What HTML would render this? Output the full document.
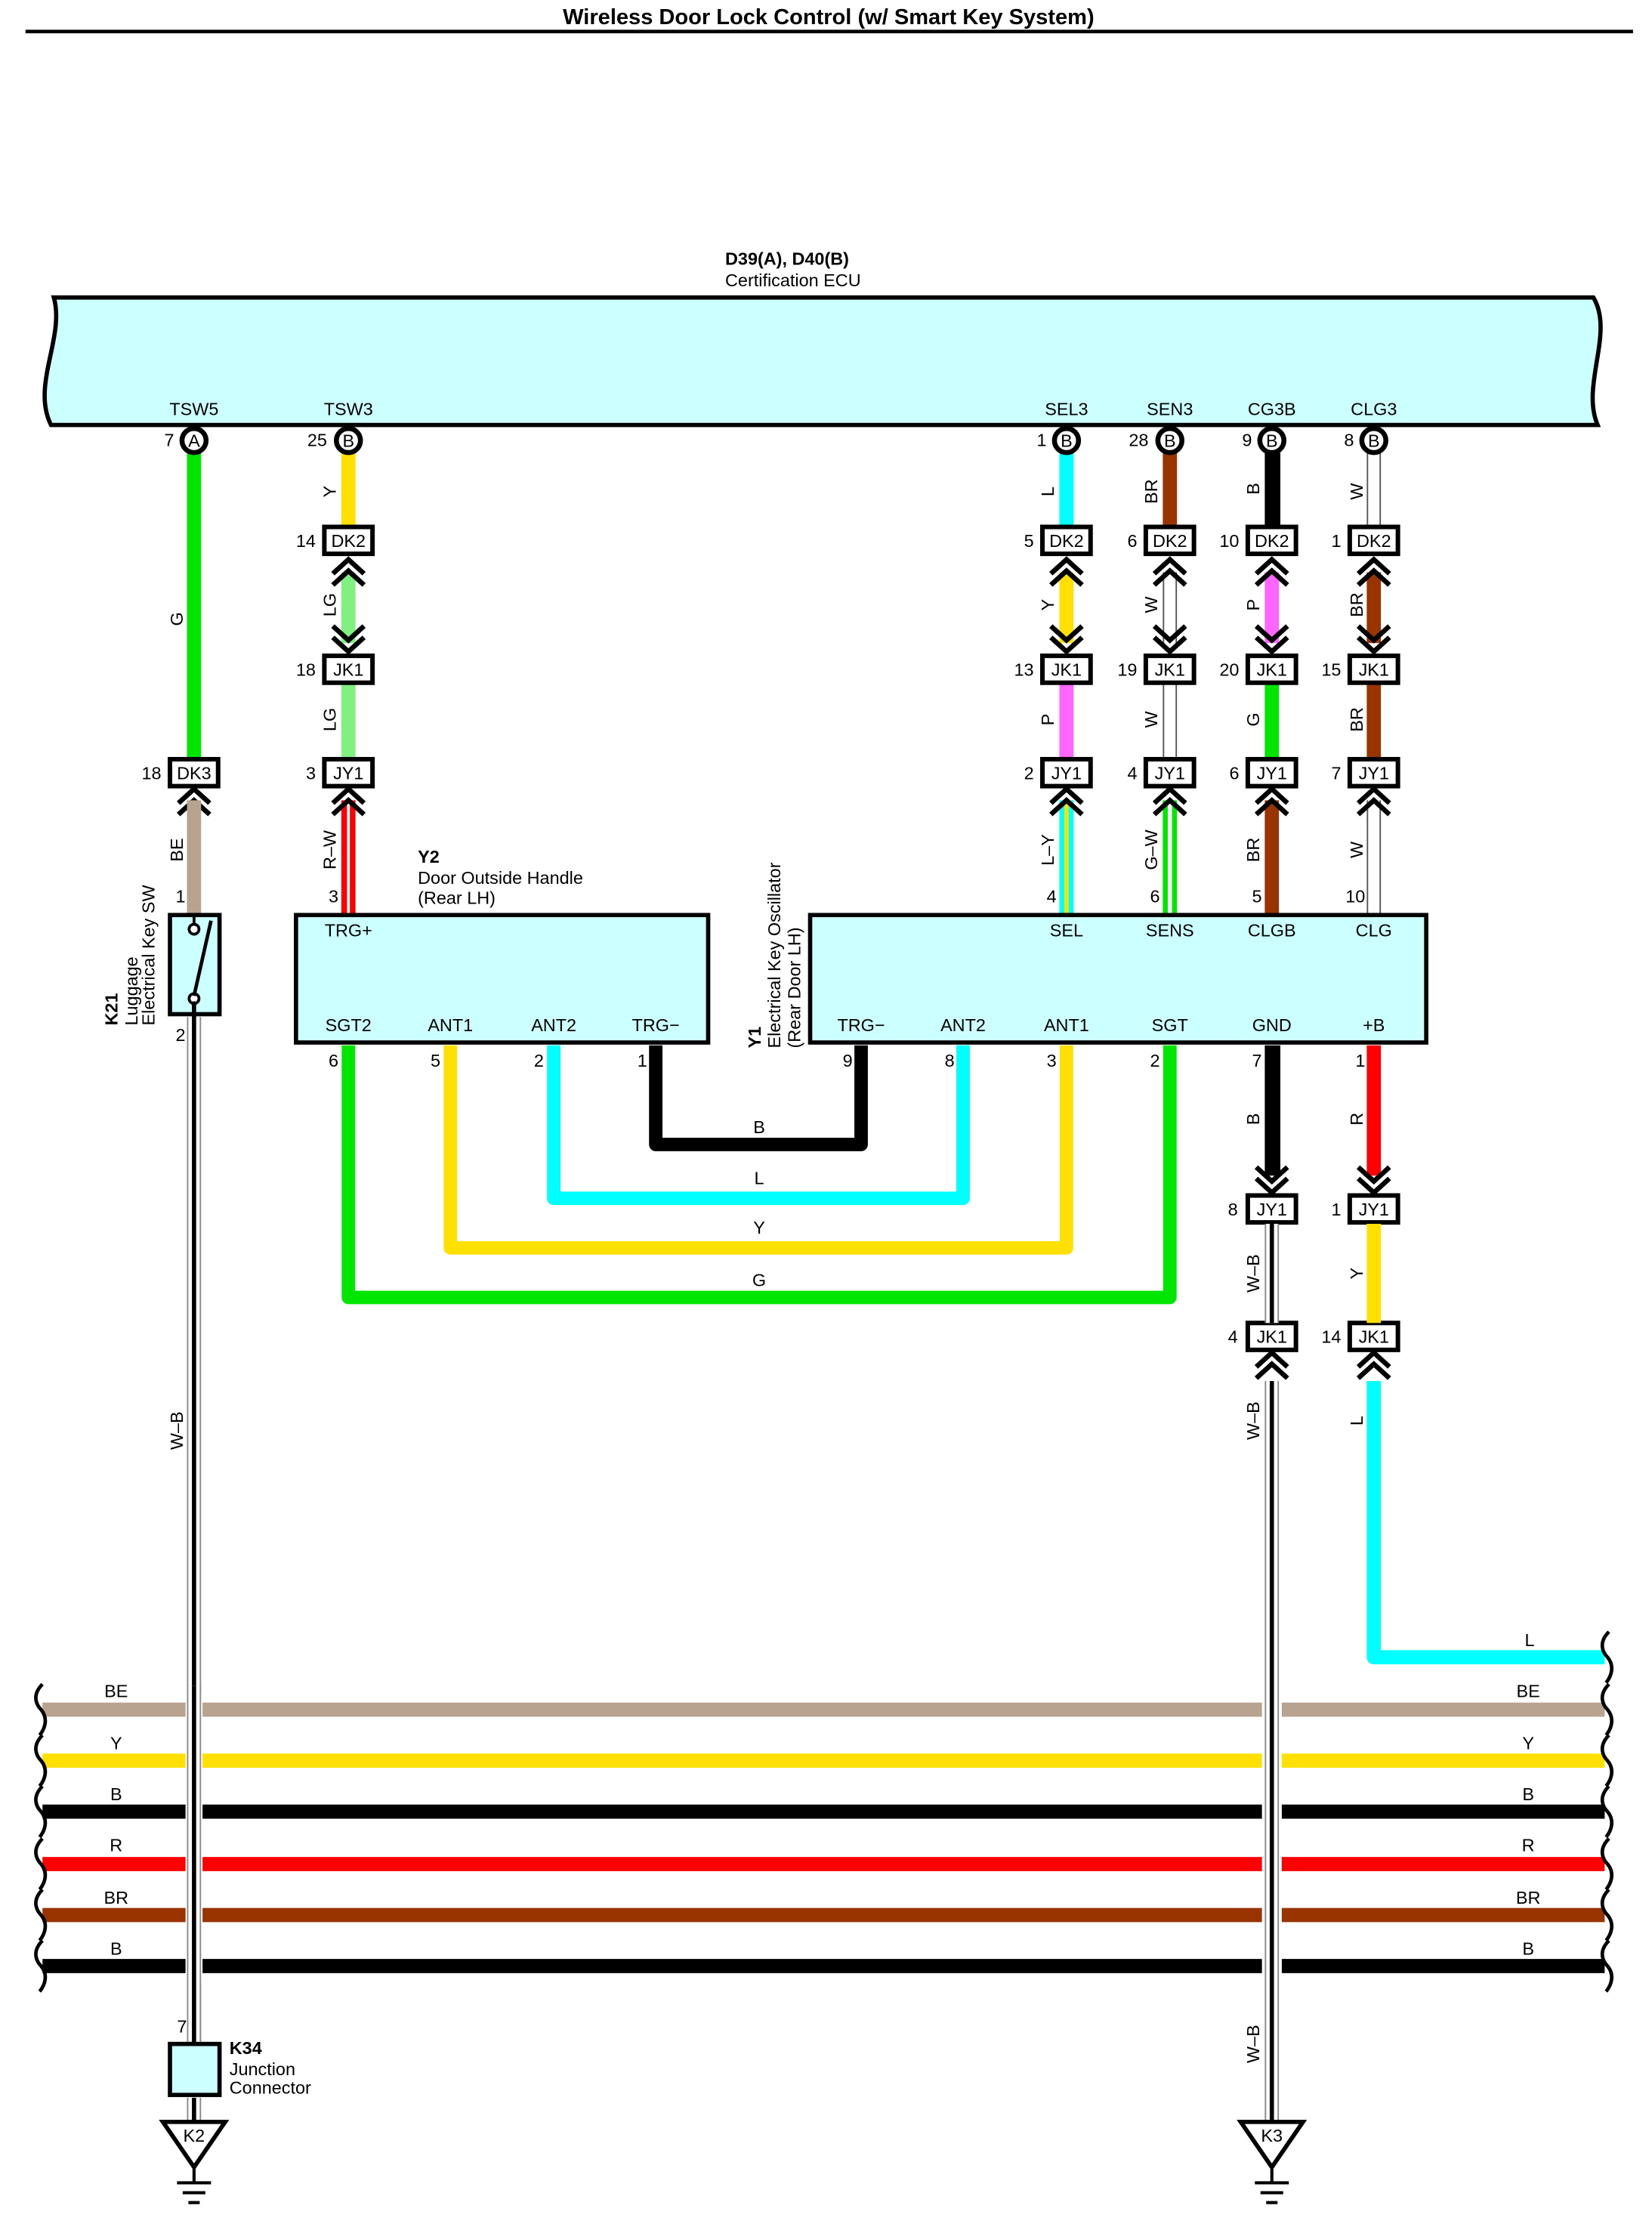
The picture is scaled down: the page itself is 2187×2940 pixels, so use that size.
<!DOCTYPE html>
<html><head><meta charset="utf-8"><style>
html,body{margin:0;padding:0;background:#fff}
svg{display:block}
text{font-family:"Liberation Sans",Arial,sans-serif;font-size:12.5px;fill:#000}
.c{text-anchor:middle}
.b{font-weight:bold}
</style></head><body>
<svg width="2187" height="2940" viewBox="0 0 1166.4 1568" xmlns="http://www.w3.org/2000/svg">
<defs>
<g id="chu"><polyline points="-11,10 0,0 11,10" fill="none" stroke="#000" stroke-width="3.5"/><polyline points="-11,18 0,8 11,18" fill="none" stroke="#000" stroke-width="3.5"/></g>
<g id="chd"><polyline points="-11,-10 0,0 11,-10" fill="none" stroke="#000" stroke-width="3.5"/><polyline points="-11,-18 0,-8 11,-18" fill="none" stroke="#000" stroke-width="3.5"/></g>
</defs>
<rect width="1166.4" height="1568" fill="#fff"/>
<text x="585" y="17" class="c b" style="font-size:15.5px">Wireless Door Lock Control (w/ Smart Key System)</text>
<rect x="18" y="21" width="1135" height="2.5" fill="#000"/>

<text x="512" y="187" class="b">D39(A), D40(B)</text>
<text x="512" y="202">Certification ECU</text>
<path d="M38,210 L1125,210 C1140,235 1116,272 1128,300 L36,300 C22,272 46,238 38,210 Z" fill="#ccffff" stroke="#000" stroke-width="3"/>
<g class="c">
<text x="137" y="293" class="c">TSW5</text><text x="246" y="293" class="c">TSW3</text><text x="753" y="293" class="c">SEL3</text><text x="826" y="293" class="c">SEN3</text><text x="898" y="293" class="c">CG3B</text><text x="970" y="293" class="c">CLG3</text>
</g>

<rect x="132" y="318" width="10" height="220" fill="#00e600"/>
<rect x="241" y="318" width="10" height="55" fill="#ffe000"/>
<rect x="241" y="404" width="10" height="50" fill="#80f080"/>
<rect x="241" y="482" width="10" height="55" fill="#80f080"/>
<rect x="241" y="565" width="10" height="80" fill="#ff0000"/><rect x="245" y="565" width="2" height="80" fill="#fff"/>
<rect x="748" y="318" width="10" height="55" fill="#00ffff"/>
<rect x="748" y="404" width="10" height="50" fill="#ffe000"/>
<rect x="748" y="482" width="10" height="55" fill="#ff66ff"/>
<rect x="748" y="565" width="10" height="80" fill="#00ffff"/><rect x="751.5" y="565" width="3" height="80" fill="#ffe000"/>
<rect x="821" y="318" width="10" height="55" fill="#993300"/>
<rect x="821" y="404" width="10" height="50" fill="#555"/><rect x="822" y="404" width="8" height="50" fill="#fff"/>
<rect x="821" y="482" width="10" height="55" fill="#555"/><rect x="822" y="482" width="8" height="55" fill="#fff"/>
<rect x="821" y="565" width="10" height="80" fill="#00e600"/><rect x="824.5" y="565" width="3" height="80" fill="#fff"/>
<rect x="893" y="318" width="11" height="55" fill="#000"/>
<rect x="893" y="404" width="10" height="50" fill="#ff66ff"/>
<rect x="893" y="482" width="10" height="55" fill="#00e600"/>
<rect x="893" y="565" width="10" height="80" fill="#993300"/>
<rect x="965" y="318" width="10" height="55" fill="#555"/><rect x="966" y="318" width="8" height="55" fill="#fff"/>
<rect x="965" y="404" width="10" height="50" fill="#993300"/>
<rect x="965" y="482" width="10" height="55" fill="#993300"/>
<rect x="965" y="565" width="10" height="80" fill="#555"/><rect x="966" y="565" width="8" height="80" fill="#fff"/>

<g fill="#fff" stroke="#000" stroke-width="3.5">
<circle cx="137" cy="311" r="8.5"/><circle cx="246" cy="311" r="8.5"/><circle cx="753" cy="311" r="8.5"/><circle cx="826" cy="311" r="8.5"/><circle cx="898" cy="311" r="8.5"/><circle cx="970" cy="311" r="8.5"/>
</g>
<text x="137" y="315.5" class="c">A</text><text x="246" y="315.5" class="c">B</text><text x="753" y="315.5" class="c">B</text><text x="826" y="315.5" class="c">B</text><text x="898" y="315.5" class="c">B</text><text x="970" y="315.5" class="c">B</text>
<text x="116" y="315">7</text><text x="217" y="315">25</text><text x="732" y="315">1</text><text x="797" y="315">28</text><text x="877" y="315">9</text><text x="949" y="315">8</text>

<use href="#chu" x="246" y="395"/><use href="#chd" x="246" y="460"/><use href="#chu" x="246" y="557"/>
<use href="#chu" x="753" y="395"/><use href="#chd" x="753" y="460"/><use href="#chu" x="753" y="557"/>
<use href="#chu" x="826" y="395"/><use href="#chd" x="826" y="460"/><use href="#chu" x="826" y="557"/>
<use href="#chu" x="898" y="395"/><use href="#chd" x="898" y="460"/><use href="#chu" x="898" y="557"/>
<use href="#chu" x="970" y="395"/><use href="#chd" x="970" y="460"/><use href="#chu" x="970" y="557"/>
<use href="#chu" x="137" y="557"/>

<g fill="#fff" stroke="#000" stroke-width="3.2">
<rect x="229" y="372" width="34" height="19"/><rect x="229" y="463" width="34" height="19"/><rect x="229" y="536" width="34" height="19"/>
<rect x="736" y="372" width="34" height="19"/><rect x="736" y="463" width="34" height="19"/><rect x="736" y="536" width="34" height="19"/>
<rect x="809" y="372" width="34" height="19"/><rect x="809" y="463" width="34" height="19"/><rect x="809" y="536" width="34" height="19"/>
<rect x="881" y="372" width="34" height="19"/><rect x="881" y="463" width="34" height="19"/><rect x="881" y="536" width="34" height="19"/>
<rect x="953" y="372" width="34" height="19"/><rect x="953" y="463" width="34" height="19"/><rect x="953" y="536" width="34" height="19"/>
<rect x="120" y="536" width="34" height="19"/>
<rect x="881" y="844" width="34" height="19"/><rect x="881" y="934" width="34" height="19"/>
<rect x="953" y="844" width="34" height="19"/><rect x="953" y="934" width="34" height="19"/>
</g>
<g class="c">
<text x="246" y="386" class="c">DK2</text><text x="246" y="477" class="c">JK1</text><text x="246" y="550" class="c">JY1</text>
<text x="753" y="386" class="c">DK2</text><text x="753" y="477" class="c">JK1</text><text x="753" y="550" class="c">JY1</text>
<text x="826" y="386" class="c">DK2</text><text x="826" y="477" class="c">JK1</text><text x="826" y="550" class="c">JY1</text>
<text x="898" y="386" class="c">DK2</text><text x="898" y="477" class="c">JK1</text><text x="898" y="550" class="c">JY1</text>
<text x="970" y="386" class="c">DK2</text><text x="970" y="477" class="c">JK1</text><text x="970" y="550" class="c">JY1</text>
<text x="137" y="550" class="c">DK3</text>
<text x="898" y="858" class="c">JY1</text><text x="898" y="948" class="c">JK1</text>
<text x="970" y="858" class="c">JY1</text><text x="970" y="948" class="c">JK1</text>
</g>
<text x="209" y="386">14</text><text x="209" y="477">18</text><text x="216" y="550">3</text>
<text x="723" y="386">5</text><text x="716" y="477">13</text><text x="723" y="550">2</text>
<text x="796" y="386">6</text><text x="789" y="477">19</text><text x="796" y="550">4</text>
<text x="861" y="386">10</text><text x="861" y="477">20</text><text x="868" y="550">6</text>
<text x="940" y="386">1</text><text x="933" y="477">15</text><text x="940" y="550">7</text>
<text x="100" y="550">18</text>
<text x="867" y="858">8</text><text x="867" y="948">4</text>
<text x="940" y="858">1</text><text x="933" y="948">14</text>

<rect x="132" y="565" width="10" height="80" fill="#b8a290"/>
<rect x="120" y="646" width="35" height="70" fill="#ccffff" stroke="#000" stroke-width="3"/>
<line x1="137" y1="646" x2="137" y2="653" stroke="#000" stroke-width="2"/>
<circle cx="137" cy="656" r="3.5" fill="#fff" stroke="#000" stroke-width="2"/>
<circle cx="137" cy="705" r="3.5" fill="#fff" stroke="#000" stroke-width="2"/>
<line x1="137" y1="703" x2="149" y2="650" stroke="#000" stroke-width="2.5"/>
<text x="124" y="637">1</text><text x="124" y="735">2</text>
<text transform="translate(83,724) rotate(-90)" class="b">K21</text>
<text transform="translate(97,724) rotate(-90)">Luggage</text>
<text transform="translate(109,724) rotate(-90)">Electrical Key SW</text>

<rect x="132" y="718" width="10" height="726" fill="#888"/><rect x="133" y="718" width="8" height="726" fill="#fff"/><rect x="135.5" y="707" width="3" height="737" fill="#000"/>

<text x="295" y="609" class="b">Y2</text>
<text x="295" y="624">Door Outside Handle</text>
<text x="295" y="638">(Rear LH)</text>
<text x="232" y="637">3</text>
<rect x="209" y="646" width="291" height="90" fill="#ccffff" stroke="#000" stroke-width="3"/>
<text x="246" y="661" class="c">TRG+</text>
<text x="246" y="728" class="c">SGT2</text><text x="318" y="728" class="c">ANT1</text><text x="391" y="728" class="c">ANT2</text><text x="463" y="728" class="c">TRG−</text>
<text x="232" y="753">6</text><text x="304" y="753">5</text><text x="377" y="753">2</text><text x="450" y="753">1</text>

<text transform="translate(537,740) rotate(-90)" class="b">Y1</text>
<text transform="translate(551,740) rotate(-90)">Electrical Key Oscillator</text>
<text transform="translate(565,740) rotate(-90)">(Rear Door LH)</text>
<rect x="572" y="646" width="435" height="90" fill="#ccffff" stroke="#000" stroke-width="3"/>
<text x="753" y="661" class="c">SEL</text><text x="826" y="661" class="c">SENS</text><text x="898" y="661" class="c">CLGB</text><text x="970" y="661" class="c">CLG</text>
<text x="608" y="728" class="c">TRG−</text><text x="680" y="728" class="c">ANT2</text><text x="753" y="728" class="c">ANT1</text><text x="826" y="728" class="c">SGT</text><text x="898" y="728" class="c">GND</text><text x="970" y="728" class="c">+B</text>
<text x="739" y="637">4</text><text x="812" y="637">6</text><text x="884" y="637">5</text><text x="950" y="637">10</text>
<text x="595" y="753">9</text><text x="667" y="753">8</text><text x="739" y="753">3</text><text x="812" y="753">2</text><text x="884" y="753">7</text><text x="957" y="753">1</text>

<g fill="none" stroke-width="9.5" stroke-linejoin="round">
<path d="M246,738 V916 H826 V738" stroke="#00e600"/>
<path d="M318,738 V881 H753 V738" stroke="#ffe000"/>
<path d="M391,738 V846 H680 V738" stroke="#00ffff"/>
<path d="M463,738 V808 H608 V738" stroke="#000"/>
</g>
<text x="536" y="800" class="c">B</text><text x="536" y="836" class="c">L</text><text x="536" y="871" class="c">Y</text><text x="536" y="908" class="c">G</text>

<rect x="893" y="738" width="11" height="92" fill="#000"/>
<rect x="965" y="738" width="10" height="92" fill="#ff0000"/>
<use href="#chd" x="898" y="842"/><use href="#chd" x="970" y="842"/>
<rect x="965" y="864" width="10" height="70" fill="#ffe000"/>
<rect x="893" y="864" width="10" height="70" fill="#888"/><rect x="894" y="864" width="8" height="70" fill="#fff"/><rect x="896.5" y="864" width="3" height="70" fill="#000"/>
<use href="#chu" x="898" y="955"/><use href="#chu" x="970" y="955"/>
<path d="M970,975 V1170 H1133" fill="none" stroke="#00ffff" stroke-width="10" stroke-linejoin="round"/>
<text x="1080" y="1162" class="c">L</text>

<g stroke-width="10">
<line x1="30" y1="1207" x2="1133" y2="1207" stroke="#b8a290"/>
<line x1="30" y1="1243" x2="1133" y2="1243" stroke="#ffe000"/>
<line x1="30" y1="1279" x2="1133" y2="1279" stroke="#000"/>
<line x1="30" y1="1316" x2="1133" y2="1316" stroke="#ff0000"/>
<line x1="30" y1="1352" x2="1133" y2="1352" stroke="#993300"/>
<line x1="30" y1="1388" x2="1133" y2="1388" stroke="#000"/>
</g>
<g class="c">
<text x="82" y="1198" class="c">BE</text><text x="82" y="1235" class="c">Y</text><text x="82" y="1271" class="c">B</text><text x="82" y="1307" class="c">R</text><text x="82" y="1344" class="c">BR</text><text x="82" y="1380" class="c">B</text>
<text x="1079" y="1198" class="c">BE</text><text x="1079" y="1235" class="c">Y</text><text x="1079" y="1271" class="c">B</text><text x="1079" y="1307" class="c">R</text><text x="1079" y="1344" class="c">BR</text><text x="1079" y="1380" class="c">B</text>
</g>
<g fill="none" stroke="#000" stroke-width="2.5">
<path d="M1136,1152 C1128,1160 1132,1167 1135,1170 C1140,1176 1138,1183 1134,1188"/>
<path d="M1136,1189 C1128,1197 1132,1204 1135,1207 C1140,1213 1138,1220 1134,1225"/>
<path d="M1136,1225 C1128,1233 1132,1240 1135,1243 C1140,1249 1138,1256 1134,1261"/>
<path d="M1136,1261 C1128,1269 1132,1276 1135,1279 C1140,1285 1138,1292 1134,1297"/>
<path d="M1136,1298 C1128,1306 1132,1313 1135,1316 C1140,1322 1138,1329 1134,1334"/>
<path d="M1136,1334 C1128,1342 1132,1349 1135,1352 C1140,1358 1138,1365 1134,1370"/>
<path d="M1136,1370 C1128,1378 1132,1385 1135,1388 C1140,1394 1138,1401 1134,1406"/>
<path d="M30,1189 C22,1197 26,1204 29,1207 C34,1213 32,1220 28,1225"/>
<path d="M30,1225 C22,1233 26,1240 29,1243 C34,1249 32,1256 28,1261"/>
<path d="M30,1261 C22,1269 26,1276 29,1279 C34,1285 32,1292 28,1297"/>
<path d="M30,1298 C22,1306 26,1313 29,1316 C34,1322 32,1329 28,1334"/>
<path d="M30,1334 C22,1342 26,1349 29,1352 C34,1358 32,1365 28,1370"/>
<path d="M30,1370 C22,1378 26,1385 29,1388 C34,1394 32,1401 28,1406"/>
</g>

<rect x="131" y="1195" width="12" height="205" fill="#fff"/>
<rect x="132" y="1190" width="10" height="254" fill="#888"/><rect x="133" y="1190" width="8" height="254" fill="#fff"/><rect x="135.5" y="1190" width="3" height="254" fill="#000"/>
<rect x="891" y="1195" width="14" height="205" fill="#fff"/>
<rect x="893" y="975" width="10" height="522" fill="#888"/><rect x="894" y="975" width="8" height="522" fill="#fff"/><rect x="896.5" y="975" width="3" height="522" fill="#000"/>

<text x="125" y="1435">7</text>
<rect x="120" y="1443" width="35" height="36" fill="#ccffff" stroke="#000" stroke-width="3"/>
<text x="162" y="1450" class="b">K34</text><text x="162" y="1465">Junction</text><text x="162" y="1478">Connector</text>
<rect x="132" y="1481" width="10" height="16" fill="#888"/><rect x="133" y="1481" width="8" height="16" fill="#fff"/><rect x="135.5" y="1481" width="3" height="16" fill="#000"/>

<g stroke="#000" stroke-width="3" fill="#fff">
<polygon points="115,1498 159,1498 137,1530"/>
<polygon points="876,1498 920,1498 898,1530"/>
</g>
<text x="137" y="1512" class="c">K2</text><text x="898" y="1512" class="c">K3</text>
<g stroke="#000" stroke-width="2.2">
<line x1="137" y1="1530" x2="137" y2="1541"/><line x1="125" y1="1541" x2="149" y2="1541"/><line x1="129" y1="1548" x2="145" y2="1548"/><line x1="133" y1="1555" x2="141" y2="1555"/>
<line x1="898" y1="1530" x2="898" y2="1541"/><line x1="886" y1="1541" x2="910" y2="1541"/><line x1="890" y1="1548" x2="906" y2="1548"/><line x1="894" y1="1555" x2="902" y2="1555"/>
</g>

<g>
<text transform="translate(129,437) rotate(-90)" class="c">G</text>
<text transform="translate(129,600) rotate(-90)" class="c">BE</text>
<text transform="translate(129,1010) rotate(-90)" class="c">W–B</text>
<text transform="translate(237,347) rotate(-90)" class="c">Y</text>
<text transform="translate(237,427) rotate(-90)" class="c">LG</text>
<text transform="translate(237,508) rotate(-90)" class="c">LG</text>
<text transform="translate(237,600) rotate(-90)" class="c">R–W</text>
<text transform="translate(744,347) rotate(-90)" class="c">L</text>
<text transform="translate(744,427) rotate(-90)" class="c">Y</text>
<text transform="translate(744,508) rotate(-90)" class="c">P</text>
<text transform="translate(744,600) rotate(-90)" class="c">L–Y</text>
<text transform="translate(817,347) rotate(-90)" class="c">BR</text>
<text transform="translate(817,427) rotate(-90)" class="c">W</text>
<text transform="translate(817,508) rotate(-90)" class="c">W</text>
<text transform="translate(817,600) rotate(-90)" class="c">G–W</text>
<text transform="translate(889,345) rotate(-90)" class="c">B</text>
<text transform="translate(889,427) rotate(-90)" class="c">P</text>
<text transform="translate(889,508) rotate(-90)" class="c">G</text>
<text transform="translate(889,600) rotate(-90)" class="c">BR</text>
<text transform="translate(962,347) rotate(-90)" class="c">W</text>
<text transform="translate(962,427) rotate(-90)" class="c">BR</text>
<text transform="translate(962,508) rotate(-90)" class="c">BR</text>
<text transform="translate(962,600) rotate(-90)" class="c">W</text>
<text transform="translate(889,790) rotate(-90)" class="c">B</text>
<text transform="translate(962,790) rotate(-90)" class="c">R</text>
<text transform="translate(889,899) rotate(-90)" class="c">W–B</text>
<text transform="translate(962,899) rotate(-90)" class="c">Y</text>
<text transform="translate(889,1003) rotate(-90)" class="c">W–B</text>
<text transform="translate(962,1003) rotate(-90)" class="c">L</text>
<text transform="translate(889,1443) rotate(-90)" class="c">W–B</text>
</g>
</svg>
</body></html>
